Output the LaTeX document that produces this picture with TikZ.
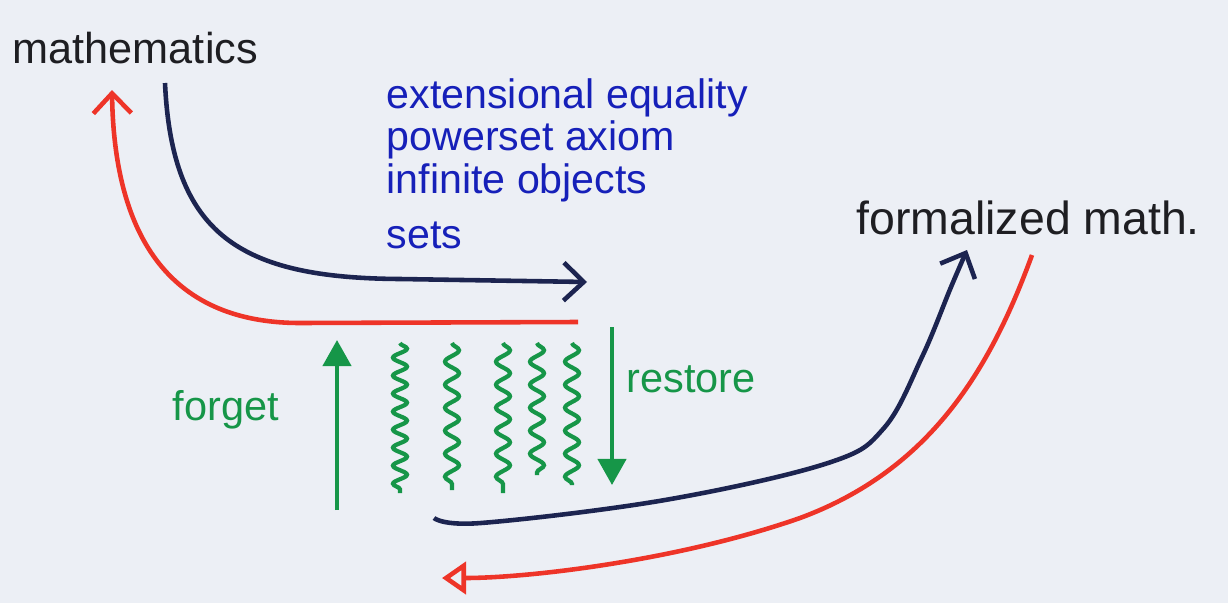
\documentclass[tikz,border=0pt]{standalone}
\usepackage{fontspec}
\setmainfont{Liberation Sans}
\usepackage{xcolor}
\usepackage{tikz}
\usetikzlibrary{
  arrows.meta,
  positioning,
  decorations.pathmorphing
}
\definecolor{PaperGray}{RGB}{236,239,245}
\definecolor{InkBlack}{RGB}{30,30,34}
\definecolor{InkNavy}{RGB}{28,36,80}
\definecolor{InkRed}{RGB}{238,52,40}
\definecolor{InkGreen}{RGB}{22,150,72}
\definecolor{InkBlue}{RGB}{22,32,185}
\tikzset{
  %%── text labels ─────────────────────────────────────────────
  worldlbl/.style = {
    inner sep = 0pt, anchor = base west, text = InkBlack,
    font = \fontsize{12.8pt}{15pt}\selectfont
  },
  featlbl/.style = {
    inner sep = 0pt, anchor = base west, text = InkBlue,
    font = \fontsize{11.7pt}{14pt}\selectfont
  },
  movelbl/.style = {
    inner sep = 0pt, anchor = base west, text = InkGreen,
    font = \fontsize{11.8pt}{14pt}\selectfont
  },
  %%── connectors ──────────────────────────────────────────────
  fwd/.style   = {-{Straight Barb[length=2mm,width=3.8mm]}, line width = 1.3pt, color = InkNavy},
  back/.style  = {-{Straight Barb[length=2mm,width=3.8mm]}, line width = 1.3pt, color = InkRed},
  backo/.style = {-{Triangle[open,length=2.4mm,width=3.2mm]}, line width = 1.3pt, color = InkRed},
  lift/.style  = {-{Triangle[length=2.6mm,width=2.8mm]}, line width = 1.2pt, color = InkGreen},
  lost/.style  = {decorate, decoration = {snake, amplitude = 0.07cm, segment length = #1},
                  line width = 1.2pt, color = InkGreen},
  lost/.default = 0.23cm,
}

\begin{document}
\begin{tikzpicture}[x = 0.01cm, y = -0.01cm]

  %% ── page ────────────────────────────────────────────────
  \fill[PaperGray] (0,0) rectangle (1228,603);
  \useasboundingbox (0,0) rectangle (1228,603);

  %% ── worlds ──────────────────────────────────────────────
  \node[worldlbl, font=\fontsize{12.3pt}{15pt}\selectfont] (math) at (12,64) {mathematics};
  \node[worldlbl, font=\fontsize{13.2pt}{15pt}\selectfont] (fmath) at (856,234) {formalized math.};

  %% ── what gets lost (blue list) ──────────────────────────
  \node[featlbl] (f1) at (386,108) {extensional equality};
  \node[featlbl] (f2) at (386,150) {powerset axiom};
  \node[featlbl] (f3) at (386,193) {infinite objects};
  \node[featlbl] (f4) at (386,248) {sets};

  %% ── green labels ────────────────────────────────────────
  \node[movelbl] (forget)  at (172,420) {forget};
  \node[movelbl] (restore) at (626,392) {restore};

  %% ── end points of the hand-drawn arrows ─────────────────
  \coordinate (mA)  at (165,83);
  \coordinate (mB)  at (587,282);
  \coordinate (rA)  at (578,322);
  \coordinate (rB)  at (112,90);
  \coordinate (nA)  at (434,518);
  \coordinate (nB)  at (967,250);
  \coordinate (sA)  at (1032,255);
  \coordinate (sB)  at (442,578);

  %% ── upper pair: mathematics → middle → mathematics ─────
  \draw[fwd]  (mA) .. controls (172,235) and (240,278) .. (400,279) -- (mB);
  \draw[back] (rA) -- (300,323) .. controls (165,323) and (114,230) .. (rB);

  %% ── lower pair: middle → formalized math → middle ──────
  \draw[fwd] plot[smooth, tension=0.6] coordinates
    {(nA) (481,523) (665,500) (828,463) (884,428) (922,357) (951,287) (nB)};
  \draw[backo] (sA) .. controls (990,370) and (930,470) .. (800,518)
                    .. controls (680,560) and (530,578) .. (sB);

  %% ── forget / restore ────────────────────────────────────
  \coordinate (fgA) at (337,510);
  \coordinate (fgB) at (337,340);
  \coordinate (rsA) at (612,327);
  \coordinate (rsB) at (612,485);
  \draw[lift] (fgA) -- (fgB);
  \draw[lift] (rsA) -- (rsB);

  %% ── wiggles ─────────────────────────────────────────────
  \draw[lost=0.18cm] (400,343) -- (400,493);
  \foreach \wx/\wy in {452/490, 503/493, 537/475, 572/485}
    \draw[lost] (\wx,343) -- (\wx,\wy);

\end{tikzpicture}
\end{document}
